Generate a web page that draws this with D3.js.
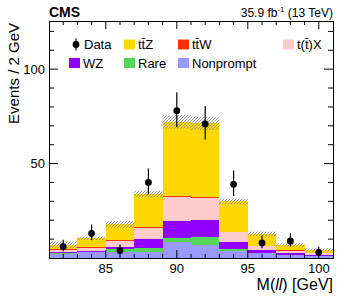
<!DOCTYPE html>
<html>
<head>
<meta charset="utf-8">
<script src="https://cdn.jsdelivr.net/npm/d3@7"></script>
<style>
body { margin: 0; background: #fff; }
text { font-family: "Liberation Sans", Arial, sans-serif; }
</style>
</head>
<body>
<div id="view"></div>
<script>
var width = 349, height = 298;
var margin = {left: 49, right: 16, top: 21, bottom: 40};

// bin edges of M(ll), 2 GeV bins
var binLo = [81, 83, 85, 87, 89, 91, 93, 95, 97, 99];
var binHi = [83, 85, 87, 89, 91, 93, 95, 97, 99, 101];

// stacked processes, bottom to top
var nonprompt = [2.1, 3.0, 3.3, 3.3, 8.5, 6.8, 3.7, 2.5, 1.6, 1.1];
var rare      = [0.5, 0.1, 1.3, 1.8, 2.0, 4.3, 1.1, 0.3, 0.1, 0.1];
var wz        = [0.6, 0.7, 1.4, 4.8, 9.2, 9.0, 3.6, 1.4, 0.8, 0.2];
var ttx       = [1.0, 1.6, 3.0, 6.0, 12.7, 11.8, 5.2, 2.0, 1.4, 1.1];
var ttw       = [0.4, 0.6, 0.4, 0.5, 0.4, 0.3, 0.3, 0.3, 0.2, 0.1];
var ttz       = [2.3, 4.4, 8.4, 17.5, 39.3, 39.1, 16.1, 6.3, 2.8, 1.6];
// total uncertainty on the prediction
var predUnc   = [1.9, 0.9, 1.8, 1.7, 3.6, 3.5, 1.5, 1.2, 0.9, 0.9];

// observed data
var dataX    = [82, 84, 86, 88, 90, 92, 94, 96, 98, 100];
var dataY    = [6, 13, 4, 40, 78, 71, 39, 8, 9, 3];
var dataErrLo = [2.4, 3.6, 1.9, 6.3, 8.8, 8.4, 6.2, 2.8, 2.9, 1.6];
var dataErrHi = [3.6, 4.7, 3.2, 7.4, 9.8, 9.5, 7.3, 3.9, 4.1, 2.9];

var xMajor = [85, 90, 95, 100];
var yMajor = [50, 100];

var procNames  = ["nonprompt", "rare", "wz", "ttx", "ttw", "ttz"];
var procColors = ["#9999ff", "#55d65a", "#9100ff", "#ffcccc", "#ff3300", "#ffd700"];

var svg = d3.select("#view").append("svg")
	.attr("width", width)
	.attr("height", height);

var defs = svg.append("defs");
var pat = defs.append("pattern")
	.attr("id", "hatch")
	.attr("patternUnits", "userSpaceOnUse")
	.attr("width", 3).attr("height", 3);
pat.append("path")
	.attr("d", "M-1,1 l2,-2 M0,3 l3,-3 M2,4 l2,-2")
	.attr("stroke", "#8c8c8c")
	.attr("stroke-width", 0.8);

var x = d3.scaleLinear().domain([81, 101]).range([margin.left, width - margin.right]);
var y = d3.scaleLinear().domain([0, 125.5]).range([height - margin.bottom, margin.top]);

// build table for the stack
var rows = binLo.map(function(lo, i) {
	return {lo: lo, hi: binHi[i], nonprompt: nonprompt[i], rare: rare[i], wz: wz[i],
		ttx: ttx[i], ttw: ttw[i], ttz: ttz[i]};
});
var series = d3.stack().keys(procNames)(rows);

var plot = svg.append("g");
series.forEach(function(s, k) {
	plot.selectAll(".bar" + k)
		.data(s).enter()
		.append("rect")
		.attr("x", function(d) { return x(d.data.lo); })
		.attr("width", function(d) { return x(d.data.hi) - x(d.data.lo); })
		.attr("y", function(d) { return y(d[1]); })
		.attr("height", function(d) { return y(d[0]) - y(d[1]); })
		.attr("fill", procColors[k])
		.attr("shape-rendering", "crispEdges");
});

// uncertainty band
var tops = series[series.length - 1];
plot.selectAll(".unc")
	.data(tops).enter()
	.append("rect")
	.attr("x", function(d) { return x(d.data.lo); })
	.attr("width", function(d) { return x(d.data.hi) - x(d.data.lo); })
	.attr("y", function(d, i) { return y(d[1] + predUnc[i]); })
	.attr("height", function(d, i) { return y(d[1] - predUnc[i]) - y(d[1] + predUnc[i]); })
	.attr("fill", "url(#hatch)");

// data points
var pts = svg.append("g");
pts.selectAll(".err")
	.data(dataX).enter()
	.append("line")
	.attr("x1", function(d) { return x(d); })
	.attr("x2", function(d) { return x(d); })
	.attr("y1", function(d, i) { return y(dataY[i] + dataErrHi[i]); })
	.attr("y2", function(d, i) { return y(Math.max(0, dataY[i] - dataErrLo[i])); })
	.attr("stroke", "#000").attr("stroke-width", 1.2);
pts.selectAll(".pt")
	.data(dataX).enter()
	.append("circle")
	.attr("cx", function(d) { return x(d); })
	.attr("cy", function(d, i) { return y(dataY[i]); })
	.attr("r", 3.4)
	.attr("fill", "#000");

// frame and ticks
var x0 = x.range()[0], x1 = x.range()[1], y0 = y.range()[0], y1 = y.range()[1];
var ax = svg.append("g").attr("stroke", "#000").attr("stroke-width", 1);
ax.append("rect")
	.attr("x", x0).attr("y", y1).attr("width", x1 - x0).attr("height", y0 - y1)
	.attr("fill", "none").attr("shape-rendering", "crispEdges");

var xMinor = d3.range(82, 101, 1);
xMinor.forEach(function(v) {
	var len = xMajor.indexOf(v) >= 0 ? 8 : 4;
	ax.append("line").attr("x1", x(v)).attr("x2", x(v)).attr("y1", y0).attr("y2", y0 - len);
	ax.append("line").attr("x1", x(v)).attr("x2", x(v)).attr("y1", y1).attr("y2", y1 + len);
});
var yMinor = d3.range(10, 125, 10);
yMinor.forEach(function(v) {
	var len = yMajor.indexOf(v) >= 0 ? 9 : 5;
	ax.append("line").attr("x1", x0).attr("x2", x0 + len).attr("y1", y(v)).attr("y2", y(v));
	ax.append("line").attr("x1", x1).attr("x2", x1 - len).attr("y1", y(v)).attr("y2", y(v));
});

svg.selectAll(".xlab")
	.data(xMajor).enter()
	.append("text")
	.attr("x", function(d) { return x(d); })
	.attr("y", 273)
	.attr("text-anchor", "middle")
	.attr("font-size", 13)
	.text(function(d) { return d; });

svg.selectAll(".ylab")
	.data(yMajor).enter()
	.append("text")
	.attr("x", 45)
	.attr("y", function(d) { return y(d) + 4.5; })
	.attr("text-anchor", "end")
	.attr("font-size", 13)
	.text(function(d) { return d; });

// axis titles
var xt = svg.append("text")
	.attr("x", x1).attr("y", 290)
	.attr("text-anchor", "end")
	.attr("font-size", 16);
xt.append("tspan").text("M(");
xt.append("tspan").attr("font-style", "italic").text("ll");
xt.append("tspan").text(") [GeV]");

svg.append("text")
	.attr("transform", "translate(19," + (y1 + 2) + ") rotate(-90)")
	.attr("text-anchor", "end")
	.attr("font-size", 15)
	.text("Events / 2 GeV");

// header
svg.append("text")
	.attr("x", x0).attr("y", 17)
	.attr("font-size", 14).attr("font-weight", "bold")
	.text("CMS");
var lumi = svg.append("text")
	.attr("x", x1).attr("y", 17)
	.attr("text-anchor", "end")
	.attr("font-size", 12);
lumi.append("tspan").text("35.9 fb");
lumi.append("tspan").attr("font-size", 8).attr("dy", -5).text("-1");
lumi.append("tspan").attr("dy", 5).text(" (13 TeV)");

// legend
var legItems = [
	{label: "t\u0074\u0304Z", color: procColors[5], bx: 124, row: 0},
	{label: "t\u0074\u0304W", color: procColors[4], bx: 178, row: 0},
	{label: "t(t\u0304)X", color: procColors[3], bx: 283, row: 0},
	{label: "WZ", color: procColors[2], bx: 69, row: 1},
	{label: "Rare", color: procColors[1], bx: 124, row: 1},
	{label: "Nonprompt", color: procColors[0], bx: 178, row: 1}
];
var rowY = [44.5, 63];
var leg = svg.append("g");
leg.selectAll(".lbox")
	.data(legItems).enter()
	.append("rect")
	.attr("x", function(d) { return d.bx; })
	.attr("y", function(d) { return rowY[d.row] - 5; })
	.attr("width", 11).attr("height", 10)
	.attr("fill", function(d) { return d.color; });
leg.selectAll(".ltxt")
	.data(legItems).enter()
	.append("text")
	.attr("x", function(d) { return d.bx + 14; })
	.attr("y", function(d) { return rowY[d.row] + 4.5; })
	.attr("font-size", 13)
	.text(function(d) { return d.label; });
leg.append("line")
	.attr("x1", 76).attr("x2", 76).attr("y1", rowY[0] - 6).attr("y2", rowY[0] + 6)
	.attr("stroke", "#000").attr("stroke-width", 1.2);
leg.append("circle").attr("cx", 76).attr("cy", rowY[0]).attr("r", 3.4).attr("fill", "#000");
leg.append("text").attr("x", 84).attr("y", rowY[0] + 4.5).attr("font-size", 13).text("Data");
</script>
</body>
</html>
